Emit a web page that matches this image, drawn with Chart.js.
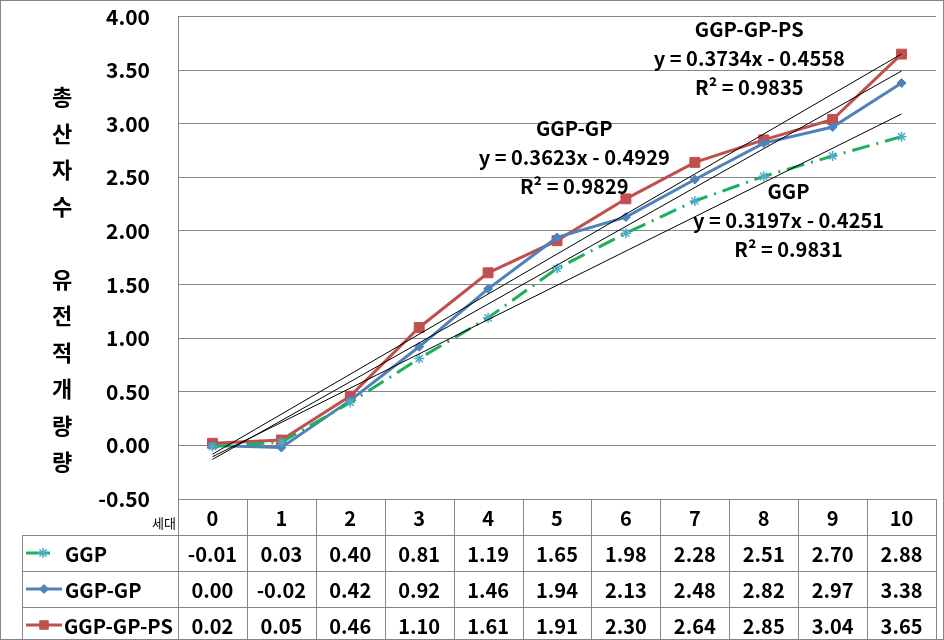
<!DOCTYPE html>
<html>
<head>
<meta charset="utf-8">
<script src="https://cdn.jsdelivr.net/npm/chart.js@4.4.1/dist/chart.umd.min.js"></script>
<style>
  body { margin: 0; background: #fff; }
  canvas { display: block; }
</style>
</head>
<body>
<canvas id="chart" width="944" height="640"></canvas>
<script>
const categories = ['0', '1', '2', '3', '4', '5', '6', '7', '8', '9', '10'];
const seriesNames = ['GGP', 'GGP-GP', 'GGP-GP-PS'];
const ggp = [-0.01, 0.03, 0.40, 0.81, 1.19, 1.65, 1.98, 2.28, 2.51, 2.70, 2.88];
const ggpGp = [0.00, -0.02, 0.42, 0.92, 1.46, 1.94, 2.13, 2.48, 2.82, 2.97, 3.38];
const ggpGpPs = [0.02, 0.05, 0.46, 1.10, 1.61, 1.91, 2.30, 2.64, 2.85, 3.04, 3.65];
const yTicks = [-0.5, 0, 0.5, 1, 1.5, 2, 2.5, 3, 3.5, 4];

// excel linear trendlines (x = 1..11)
const slopes = [0.3197, 0.3623, 0.3734];
const intercepts = [-0.4251, -0.4929, -0.4558];
const rSquared = [0.9831, 0.9829, 0.9835];
// label anchors in data units: [category index, value]
const labelAnchors = [[8.36, 2.10], [5.25, 2.69], [7.79, 3.61]];

const axisTitle = ['총', '산', '자', '수', '', '유', '전', '적', '개', '량', '량'];
const xTitle = '세대';

const FONT = "'Noto Sans CJK KR', 'Open Sans', sans-serif";
const colors = ['#1fae5b', '#4f81bd', '#c0504d'];
const gridColor = '#868686';

function trend(i) {
    let d = categories.map(() => null);
    d[0] = slopes[i] * 1 + intercepts[i];
    d[categories.length - 1] = slopes[i] * categories.length + intercepts[i];
    return d;
}

const seriesStyle = [
    {pointStyle: 'star', pointRadius: 5, pointBorderColor: '#4bacc6', pointBackgroundColor: '#4bacc6', borderDash: [18, 7, 2, 7], pointBorderWidth: 1.5},
    {pointStyle: 'rectRot', pointRadius: 4.5, pointBorderColor: colors[1], pointBackgroundColor: colors[1], borderDash: [], pointBorderWidth: 1},
    {pointStyle: 'rect', pointRadius: 7, pointBorderColor: colors[2], pointBackgroundColor: colors[2], borderDash: [], pointBorderWidth: 1}
];
const seriesData = [ggp, ggpGp, ggpGpPs];

// trendlines first so they are painted on top of the series
const datasets = [];
seriesData.forEach((d, i) => {
    datasets.push({
        label: seriesNames[i] + ' trend',
        data: trend(i),
        borderColor: '#000',
        borderWidth: 1,
        pointRadius: 0,
        spanGaps: true,
        fill: false
    });
});
seriesData.forEach((d, i) => {
    datasets.push(Object.assign({
        label: seriesNames[i],
        data: d,
        borderColor: colors[i],
        backgroundColor: colors[i],
        borderWidth: 3,
        fill: false,
        tension: 0
    }, seriesStyle[i]));
});

const tablePlugin = {
    id: 'tablePlugin',
    afterDraw(chart) {
        const ctx = chart.ctx;
        const xs = chart.scales.x;
        const area = chart.chartArea;
        const W = chart.width, H = chart.height;
        const colW = xs.getPixelForValue(1) - xs.getPixelForValue(0);
        const rowH = 36;
        const headTop = area.bottom;
        const bodyTop = headTop + rowH;
        const tableLeft = 22;
        ctx.save();

        // outer border
        ctx.strokeStyle = gridColor;
        ctx.lineWidth = 1;
        ctx.strokeRect(0.5, 0.5, W - 1, H - 1);

        // table lines
        ctx.beginPath();
        for (let r = 0; r < 3; r++) {
            const y = Math.round(bodyTop + r * rowH) + 0.5;
            ctx.moveTo(tableLeft, y);
            ctx.lineTo(area.right, y);
        }
        ctx.moveTo(tableLeft + 0.5, bodyTop);
        ctx.lineTo(tableLeft + 0.5, H);
        for (let c = 0; c <= categories.length; c++) {
            const x = Math.round(xs.getPixelForValue(c) - colW / 2) + 0.5;
            ctx.moveTo(x, headTop);
            ctx.lineTo(x, H);
        }
        ctx.stroke();

        // header
        ctx.fillStyle = '#000';
        ctx.textAlign = 'center';
        ctx.textBaseline = 'middle';
        ctx.font = 'bold 20px ' + FONT;
        categories.forEach((c, i) => {
            ctx.fillText(c, xs.getPixelForValue(i), headTop + rowH / 2 + 1);
        });
        ctx.font = '13px ' + FONT;
        ctx.textAlign = 'right';
        ctx.fillText(xTitle, area.left - 2, headTop + 24);

        // body rows
        seriesData.forEach((d, r) => {
            const cy = bodyTop + r * rowH + rowH / 2;
            ctx.font = 'bold 20px ' + FONT;
            ctx.textAlign = 'center';
            d.forEach((v, i) => {
                ctx.fillText(v.toFixed(2), xs.getPixelForValue(i), cy + 1);
            });
            // legend key
            const st = seriesStyle[r];
            ctx.save();
            ctx.strokeStyle = colors[r];
            ctx.lineWidth = 3;
            ctx.beginPath();
            ctx.moveTo(26, cy);
            ctx.lineTo(r === 0 ? 50 : 62, cy);
            ctx.stroke();
            ctx.restore();
            ctx.save();
            ctx.strokeStyle = st.pointBorderColor;
            ctx.fillStyle = st.pointBackgroundColor;
            ctx.lineWidth = st.pointBorderWidth;
            Chart.helpers.drawPoint(ctx, {pointStyle: st.pointStyle, radius: r === 2 ? 6 : st.pointRadius, borderWidth: st.pointBorderWidth, rotation: 0}, r === 0 ? 43 : 44, cy);
            ctx.restore();
            ctx.fillStyle = '#000';
            ctx.textAlign = 'left';
            ctx.font = 'bold 20px ' + FONT;
            ctx.fillText(seriesNames[r], r === 2 ? 64 : 65, cy + 1);
        });

        // y axis title, stacked characters
        ctx.font = 'bold 22px ' + FONT;
        ctx.textAlign = 'center';
        axisTitle.forEach((ch, i) => {
            ctx.fillText(ch, 62, 97 + i * 36.5);
        });

        // trendline labels
        const ys = chart.scales.y;
        ctx.font = 'bold 20px ' + FONT;
        labelAnchors.forEach((a, i) => {
            const x = xs.getPixelForValue(0) + a[0] * colW;
            const y = ys.getPixelForValue(a[1]);
            const b = intercepts[i];
            ctx.fillText(seriesNames[i], x, y - 29);
            ctx.fillText('y = ' + slopes[i].toFixed(4) + 'x - ' + Math.abs(b).toFixed(4), x, y);
            ctx.fillText('R² = ' + rSquared[i].toFixed(4), x, y + 29);
        });
        ctx.restore();
    }
};

new Chart(document.getElementById('chart'), {
    type: 'line',
    data: {labels: categories, datasets: datasets},
    plugins: [tablePlugin],
    options: {
        responsive: false,
        animation: false,
        layout: {padding: {left: 0, top: 16, right: 3, bottom: 141}},
        plugins: {
            legend: {display: false},
            tooltip: {enabled: false}
        },
        scales: {
            x: {
                type: 'category',
                offset: true,
                display: false
            },
            y: {
                min: -0.5,
                max: 4,
                afterFit: (s) => { s.width = 178; },
                afterBuildTicks: (s) => { s.ticks = yTicks.map(v => ({value: v})); },
                border: {color: gridColor},
                grid: {color: gridColor, drawTicks: true, tickLength: 24, tickColor: 'rgba(0,0,0,0)'},
                ticks: {
                    padding: 4,
                    color: '#000',
                    font: {family: FONT, size: 21, weight: 'bold'},
                    callback: (v) => v.toFixed(2)
                }
            }
        }
    }
});
</script>
</body>
</html>
